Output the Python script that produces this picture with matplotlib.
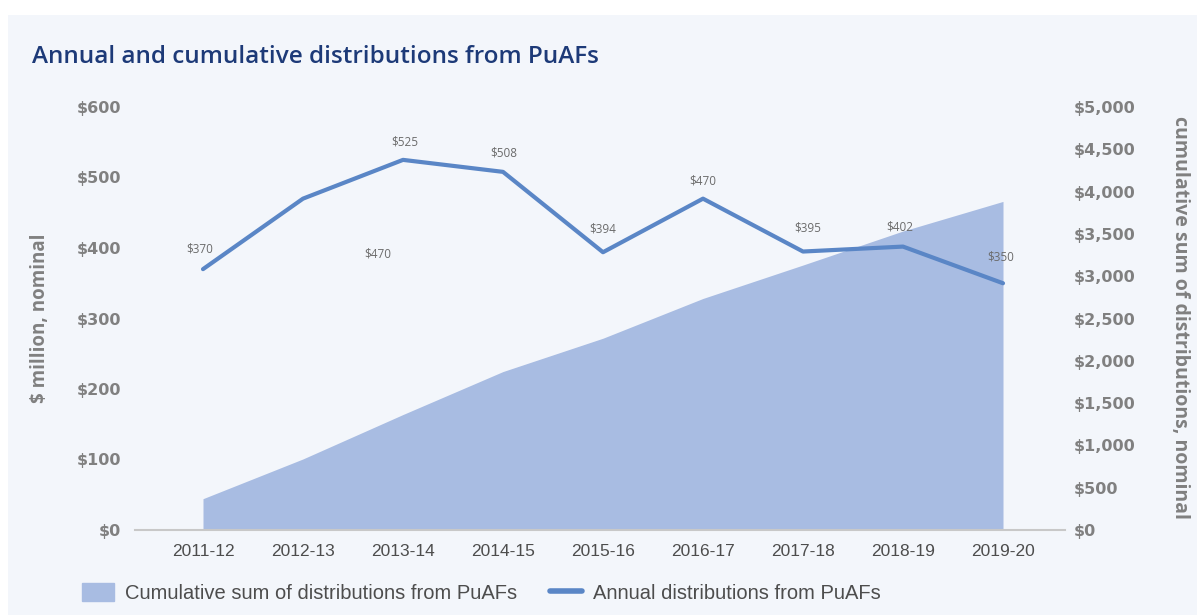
import matplotlib.pyplot as plt
import matplotlib.patches as mpatches
from matplotlib.lines import Line2D
import numpy as np

# data
years = ['2011-12', '2012-13', '2013-14', '2014-15', '2015-16',
         '2016-17', '2017-18', '2018-19', '2019-20']
annual = [370, 470, 525, 508, 394, 470, 395, 402, 350]
cumulative = list(np.cumsum(annual))
left_ticks = [0, 100, 200, 300, 400, 500, 600]
right_ticks = [0, 500, 1000, 1500, 2000, 2500, 3000, 3500, 4000, 4500, 5000]

# label offsets in pixels (label placement as in the original)
label_offsets = [(-3, 20), (75, -55), (2, 18), (1, 19), (0, 23),
                 (0, 18), (5, 24), (-3, 20), (-2, 26)]

area_col = '#a8bce2'
line_col = '#5a86c6'
grey = '#808080'
navy = '#1d3a78'
narrow = ['Liberation Sans', 'DejaVu Sans']
wide = ['Open Sans', 'DejaVu Sans']
tickfont = ['DejaVu Sans']

fig = plt.figure(figsize=(11.97, 6.15), dpi=100, facecolor='white')
fig.patches.append(mpatches.Rectangle((8 / 1197, 0), 1, 1 - 15 / 615,
                                      transform=fig.transFigure,
                                      facecolor='#f3f6fb', edgecolor='none', zorder=-10))

ax = fig.add_axes([135 / 1197, 1 - 530 / 615, 930 / 1197, 423 / 615])
ax2 = ax.twinx()
ax.set_zorder(ax2.get_zorder() + 1)
ax.patch.set_visible(False)
ax2.patch.set_visible(False)

x = np.arange(len(years))

# cumulative area on right axis
ax2.fill_between(x, 0, cumulative, color=area_col, linewidth=0)
ax2.set_ylim(0, 5000)
ax2.set_yticks(right_ticks)
ax2.set_yticklabels(['${:,}'.format(v) for v in right_ticks])

# annual line on left axis
ax.plot(x, annual, color=line_col, linewidth=3, solid_capstyle='round')
for i, v in enumerate(annual):
    dx, dy = label_offsets[i]
    ax.annotate('${}'.format(v), (x[i], v), xytext=(dx, dy), textcoords='offset pixels',
                ha='center', va='center', fontsize=8.5, color='#6b6b6b', family=wide)

ax.set_ylim(0, 600)
ax.set_xlim(-0.68, 8.62)
ax.set_yticks(left_ticks)
ax.set_yticklabels(['${}'.format(v) for v in left_ticks])
ax.set_xticks(x)
ax.set_xticklabels(years)

for a in (ax, ax2):
    for s in a.spines.values():
        s.set_visible(False)
    a.tick_params(length=0)
ax.axhline(0, color='#c8c8c8', linewidth=1.5, zorder=0, clip_on=False)

for lab in ax.get_yticklabels() + ax2.get_yticklabels():
    lab.set_fontfamily(tickfont)
    lab.set_fontweight('bold')
    lab.set_fontsize(11.5)
    lab.set_color(grey)
for lab in ax.get_xticklabels():
    lab.set_fontfamily(narrow)
    lab.set_fontsize(12.5)
    lab.set_color('#4d4d4d')
ax.tick_params(axis='y', pad=10)
ax2.tick_params(axis='y', pad=6)
ax.tick_params(axis='x', pad=10)

fig.text(40 / 1197, 1 - 318 / 615, '$ million, nominal', rotation=90, ha='center', va='center',
         fontsize=13.5, fontweight='bold', color=grey, family=wide)
fig.text(1180 / 1197, 1 - 318 / 615, 'cumulative sum of distributions, nominal', rotation=-90,
         ha='center', va='center', fontsize=14, fontweight='bold', color=grey, family=wide)

fig.text(32 / 1197, 1 - 57 / 615, 'Annual and cumulative distributions from PuAFs',
         ha='left', va='center', fontsize=17.5, fontweight='semibold', color=navy, family=wide)

handles = [mpatches.Patch(color=area_col, label='Cumulative sum of distributions from PuAFs'),
           Line2D([0], [0], color=line_col, linewidth=4, solid_capstyle='round',
                  label='Annual distributions from PuAFs')]
fig.legend(handles=handles, loc='center left', bbox_to_anchor=(64 / 1197, 1 - 593 / 615),
           ncol=2, frameon=False, prop={'family': narrow, 'size': 14.5},
           labelcolor='#4d4d4d', handlelength=1.6, handleheight=1.0, handletextpad=0.55,
           columnspacing=1.6)

plt.savefig('out.png', dpi=100, facecolor='white')
